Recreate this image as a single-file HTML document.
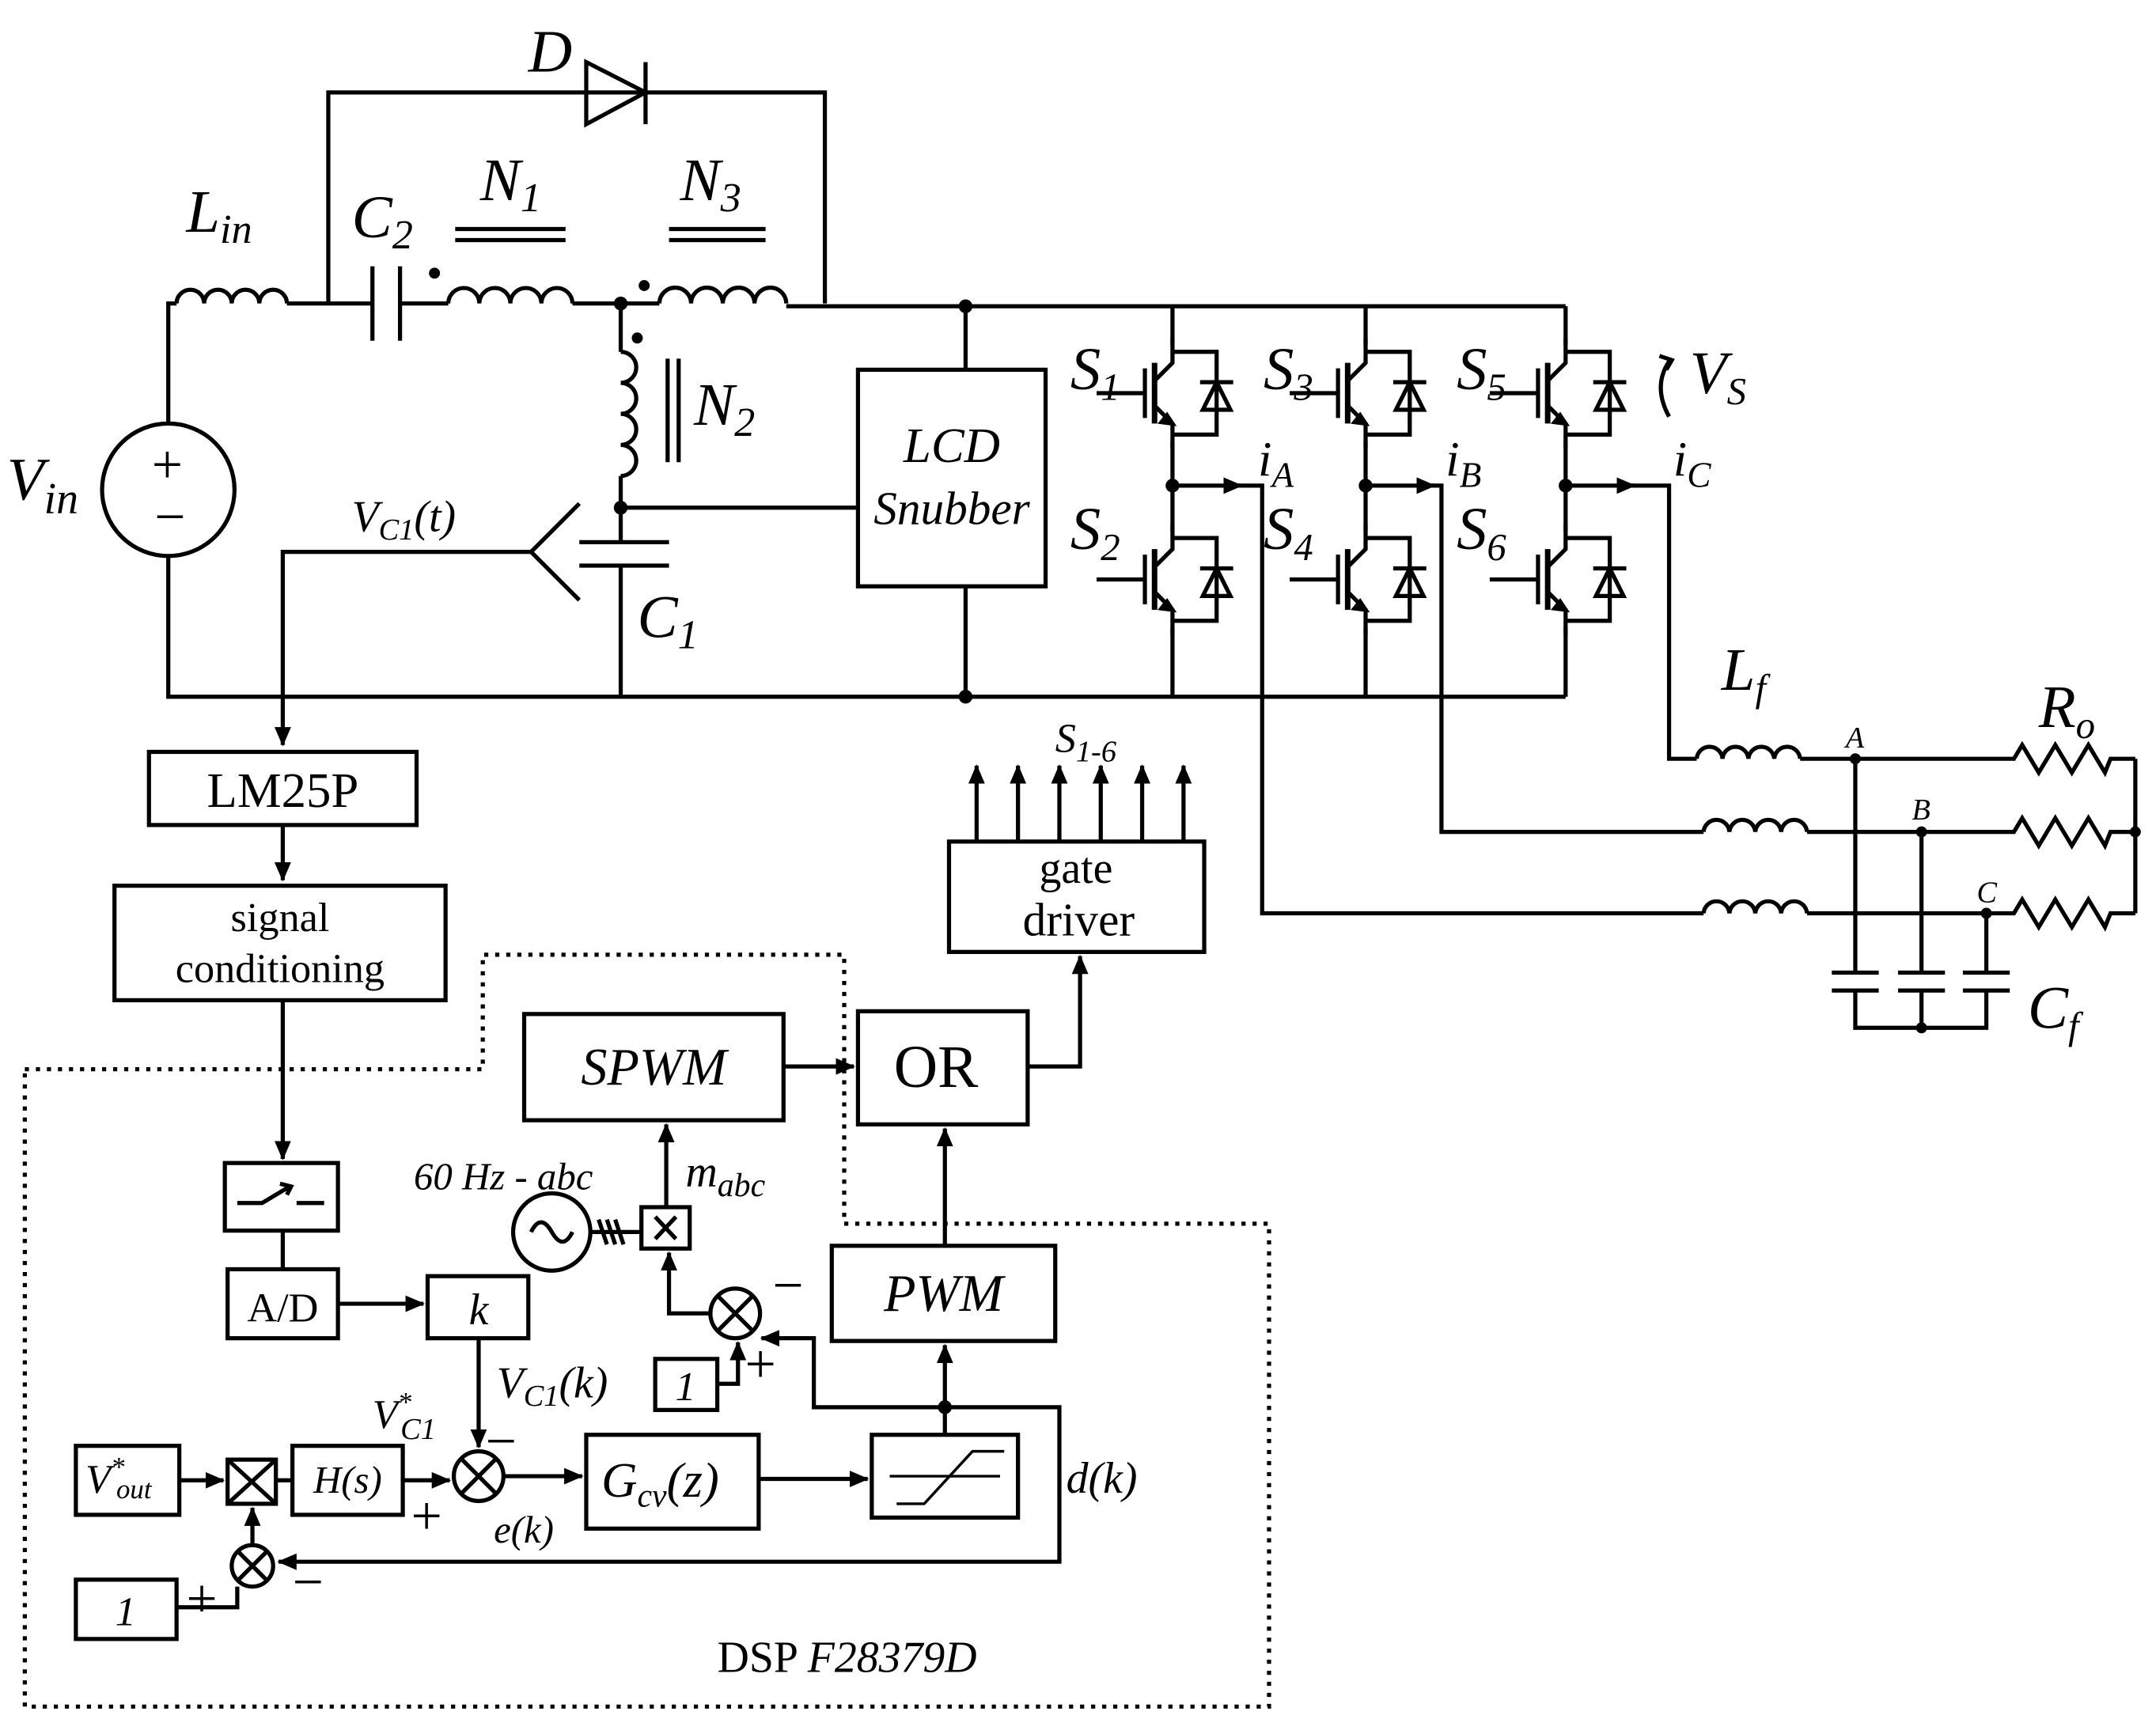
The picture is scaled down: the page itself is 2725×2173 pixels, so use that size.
<!DOCTYPE html>
<html><head><meta charset="utf-8"><style>
html,body{margin:0;padding:0;background:#fff}
svg{display:block}
text{font-family:"Liberation Serif",serif;fill:#000}
.i{font-style:italic}
</style></head><body>
<svg width="2725" height="2173" viewBox="0 0 1563 1246" preserveAspectRatio="none" xmlns="http://www.w3.org/2000/svg">
<defs>
<marker id="ar" markerWidth="14" markerHeight="12" refX="13" refY="6" orient="auto" markerUnits="userSpaceOnUse"><path d="M0,0 L14,6 L0,12 z" fill="#000"/></marker>
<g id="igbt" fill="none" stroke="#000" stroke-width="3">
<path d="M0,-40 V-22 L-12,-10"/>
<path d="M-12,10 L0,22 V40"/>
<path d="M-4,16 L0,22 L-8,21 z" fill="#000"/>
<line x1="-13" y1="-22" x2="-13" y2="22" stroke-width="4"/>
<line x1="-20" y1="-18" x2="-20" y2="18"/>
<line x1="-55" y1="0" x2="-20" y2="0"/>
<path d="M0,-30 H32 V30 H0"/>
<path d="M22,12 L42,12 L32,-8 z"/>
<line x1="20" y1="-8" x2="44" y2="-8"/>
</g>
</defs>
<g fill="none" stroke="#000" stroke-width="3">
<path d="M122,307 V220 H128"/>
<path d="M128,220 a10,10 0 0 1 20,0 a10,10 0 0 1 20,0 a10,10 0 0 1 20,0 a10,10 0 0 1 20,0"/>
<path d="M208,220 H270"/>
<circle cx="122" cy="355" r="48"/>
<path d="M122,403 V505 H1135"/>
<path d="M238,220 V67 H598 V220"/>
<path d="M425,45 V90 L468,67 z M468,45 V90"/>
<line x1="270" y1="193" x2="270" y2="247"/><line x1="290" y1="193" x2="290" y2="247"/>
<path d="M290,220 H325"/>
<path d="M325,220 a11.25,11.25 0 0 1 22.5,0 a11.25,11.25 0 0 1 22.5,0 a11.25,11.25 0 0 1 22.5,0 a11.25,11.25 0 0 1 22.5,0"/>
<line x1="330" y1="166" x2="410" y2="166"/><line x1="330" y1="174" x2="410" y2="174"/>
<path d="M415,220 H478"/>
<path d="M478,220 a11.5,11.5 0 0 1 23,0 a11.5,11.5 0 0 1 23,0 a11.5,11.5 0 0 1 23,0 a11.5,11.5 0 0 1 23,0"/>
<line x1="485" y1="166" x2="555" y2="166"/><line x1="485" y1="174" x2="555" y2="174"/>
<path d="M570,222 H1135"/>
<path d="M450,220 V255"/>
<path d="M450,255 a11.25,11.25 0 0 1 0,22.5 a11.25,11.25 0 0 1 0,22.5 a11.25,11.25 0 0 1 0,22.5 a11.25,11.25 0 0 1 0,22.5"/>
<line x1="484" y1="260" x2="484" y2="335"/><line x1="492" y1="260" x2="492" y2="335"/>
<path d="M450,345 V393"/>
<path d="M450,368 H622"/>
<line x1="420" y1="393" x2="485" y2="393"/><line x1="420" y1="410" x2="485" y2="410"/>
<path d="M450,410 V505"/>
<path d="M420,365 L385,400 L420,435"/>
<path d="M385,400 H205 V540" marker-end="url(#ar)"/>
<rect x="622" y="268" width="136" height="157"/>
<path d="M700,222 V268 M700,425 V505"/>
<path d="M850,222 V250 M850,320 V385 M850,455 V505"/>
<path d="M990,222 V250 M990,320 V385 M990,455 V505"/>
<path d="M1135,222 V250 M1135,320 V385 M1135,455 V505"/>
<use href="#igbt" x="850" y="285"/><use href="#igbt" x="850" y="420"/>
<use href="#igbt" x="990" y="285"/><use href="#igbt" x="990" y="420"/>
<use href="#igbt" x="1135" y="285"/><use href="#igbt" x="1135" y="420"/>
<path d="M850,352 H900" marker-end="url(#ar)"/><path d="M895,352 H915 V662 H1235"/>
<path d="M990,352 H1040" marker-end="url(#ar)"/><path d="M1035,352 H1045 V603 H1235"/>
<path d="M1135,352 H1185" marker-end="url(#ar)"/><path d="M1180,352 H1210 V550 H1230"/>
<path d="M1210,262 q-12,18 0,40" /><path d="M1203,258 l9,3 l-4,7" />
<path d="M1230,550 a9.4,9.4 0 0 1 18.75,0 a9.4,9.4 0 0 1 18.75,0 a9.4,9.4 0 0 1 18.75,0 a9.4,9.4 0 0 1 18.75,0"/>
<path d="M1235,603 a9.4,9.4 0 0 1 18.75,0 a9.4,9.4 0 0 1 18.75,0 a9.4,9.4 0 0 1 18.75,0 a9.4,9.4 0 0 1 18.75,0"/>
<path d="M1235,662 a9.4,9.4 0 0 1 18.75,0 a9.4,9.4 0 0 1 18.75,0 a9.4,9.4 0 0 1 18.75,0 a9.4,9.4 0 0 1 18.75,0"/>
<path d="M1305,550 H1460 l6,-10 l12,20 l12,-20 l12,20 l12,-20 l12,20 l4,-10 H1548"/>
<path d="M1310,603 H1460 l6,-10 l12,20 l12,-20 l12,20 l12,-20 l12,20 l4,-10 H1548"/>
<path d="M1310,662 H1460 l6,-10 l12,20 l12,-20 l12,20 l12,-20 l12,20 l4,-10 H1548"/>
<path d="M1548,550 V662"/>
<path d="M1345,550 V705 M1393,603 V705 M1440,662 V705"/>
<path d="M1328,705 H1362 M1328,718 H1362 M1376,705 H1410 M1376,718 H1410 M1423,705 H1457 M1423,718 H1457"/>
<path d="M1345,718 V745 H1440 V718 M1393,718 V745"/>
<rect x="108" y="545" width="194" height="53"/>
<path d="M205,598 V638" marker-end="url(#ar)"/>
<rect x="83" y="642" width="240" height="83"/>
<path d="M205,725 V840" marker-end="url(#ar)"/>
<rect x="163" y="843" width="82" height="49"/>
<path d="M172,872 H190 L210,860 M215,872 H235 M203,858 l8,2 l-3,6"/>
<path d="M205,892 V920"/>
<rect x="165" y="920" width="80" height="50"/>
<path d="M245,945 H307" marker-end="url(#ar)"/>
<rect x="310" y="925" width="73" height="45"/>
<path d="M347,970 V1049" marker-end="url(#ar)"/>
<rect x="55" y="1048" width="75" height="50"/>
<path d="M130,1073 H162" marker-end="url(#ar)"/>
<rect x="165" y="1058" width="35" height="32"/><path d="M165,1058 L200,1090 M200,1058 L165,1090"/>
<path d="M200,1073 H212"/>
<rect x="212" y="1048" width="80" height="50"/>
<path d="M292,1073 H326" marker-end="url(#ar)"/>
<circle cx="347" cy="1070" r="18"/><path d="M334,1057 L360,1083 M360,1057 L334,1083"/>
<path d="M365,1070 H422" marker-end="url(#ar)"/>
<rect x="425" y="1040" width="125" height="68"/>
<path d="M550,1072 H629" marker-end="url(#ar)"/>
<rect x="632" y="1040" width="106" height="60"/>
<path d="M645,1070 H725 M650,1090 H670 L705,1052 H728" stroke-width="2"/>
<path d="M685,1040 V1020 H768 V1132 H202" marker-end="url(#ar)"/>
<circle cx="183" cy="1135" r="15"/><path d="M172,1124 L194,1146 M194,1124 L172,1146"/>
<rect x="55" y="1145" width="73" height="43"/>
<path d="M128,1165 H172 V1150" />
<path d="M183,1120 V1093" marker-end="url(#ar)"/>
<path d="M685,1020 V975" marker-end="url(#ar)"/>
<rect x="603" y="903" width="162" height="69"/>
<path d="M685,903 V818" marker-end="url(#ar)"/>
<rect x="622" y="733" width="123" height="82"/>
<rect x="380" y="735" width="188" height="77"/>
<path d="M568,773 H619" marker-end="url(#ar)"/>
<path d="M745,773 H783 V693" marker-end="url(#ar)"/>
<rect x="688" y="610" width="185" height="80"/>
<line x1="708" y1="610" x2="708" y2="555" marker-end="url(#ar)"/>
<line x1="738" y1="610" x2="738" y2="555" marker-end="url(#ar)"/>
<line x1="768" y1="610" x2="768" y2="555" marker-end="url(#ar)"/>
<line x1="798" y1="610" x2="798" y2="555" marker-end="url(#ar)"/>
<line x1="828" y1="610" x2="828" y2="555" marker-end="url(#ar)"/>
<line x1="858" y1="610" x2="858" y2="555" marker-end="url(#ar)"/>
<path d="M685,1020 H590 V970 H552" marker-end="url(#ar)"/>
<circle cx="533" cy="952" r="18"/><path d="M520,939 L546,965 M546,939 L520,965"/>
<rect x="475" y="985" width="45" height="37"/>
<path d="M520,1003 H535 V973" marker-end="url(#ar)"/>
<path d="M515,952 H485 V908" marker-end="url(#ar)"/>
<rect x="465" y="875" width="35" height="30"/><path d="M475,882 L490,898 M490,882 L475,898"/>
<path d="M483,875 V815" marker-end="url(#ar)"/>
<circle cx="400" cy="893" r="28"/>
<path d="M385,893 q7,-14 15,0 t15,0"/>
<path d="M428,893 H465 M434,884 L440,902 M440,884 L446,902 M446,884 L452,902"/>
<path d="M18,775 H350 V692 H612 V887 H920 V1237 H18 Z" stroke-dasharray="3,5"/>
</g>
<g fill="#000">
<circle cx="315" cy="198" r="4"/><circle cx="467" cy="207" r="4"/><circle cx="462" cy="245" r="4"/>
<circle cx="450" cy="220" r="5"/><circle cx="450" cy="368" r="5"/><circle cx="700" cy="222" r="5"/><circle cx="700" cy="505" r="5"/>
<circle cx="850" cy="352" r="5"/><circle cx="990" cy="352" r="5"/><circle cx="1135" cy="352" r="5"/>
<circle cx="1345" cy="550" r="4"/><circle cx="1393" cy="603" r="4"/><circle cx="1440" cy="662" r="4"/>
<circle cx="1548" cy="603" r="4"/><circle cx="1393" cy="745" r="4"/><circle cx="685" cy="1020" r="5"/>
</g>
<g font-size="44">
<text x="383" y="52" class="i">D</text>
<text x="135" y="168" class="i">L<tspan font-size="30" dy="8">in</tspan></text>
<text x="255" y="172" class="i">C<tspan font-size="30" dy="8">2</tspan></text>
<text x="348" y="145" class="i">N<tspan font-size="30" dy="8">1</tspan></text>
<text x="493" y="145" class="i">N<tspan font-size="30" dy="8">3</tspan></text>
<text x="503" y="308" class="i">N<tspan font-size="30" dy="8">2</tspan></text>
<text x="5" y="362" class="i">V<tspan font-size="32" dy="10">in</tspan></text>
<text x="462" y="462" class="i">C<tspan font-size="30" dy="8">1</tspan></text>
<text x="776" y="282" class="i">S<tspan font-size="28" dy="8">1</tspan></text>
<text x="776" y="398" class="i">S<tspan font-size="28" dy="8">2</tspan></text>
<text x="916" y="282" class="i">S<tspan font-size="28" dy="8">3</tspan></text>
<text x="916" y="398" class="i">S<tspan font-size="28" dy="8">4</tspan></text>
<text x="1056" y="282" class="i">S<tspan font-size="28" dy="8">5</tspan></text>
<text x="1056" y="398" class="i">S<tspan font-size="28" dy="8">6</tspan></text>
<text x="1225" y="285" class="i">V<tspan font-size="28" dy="8">S</tspan></text>
<text x="1248" y="500" class="i">L<tspan font-size="28" dy="8">f</tspan></text>
<text x="1478" y="527" class="i">R<tspan font-size="28" dy="8">o</tspan></text>
<text x="1470" y="745" class="i">C<tspan font-size="28" dy="8">f</tspan></text>
<text x="648" y="788" font-size="44">OR</text>
</g>
<g font-size="36">
<text x="912" y="345" class="i">i<tspan font-size="26" dy="8">A</tspan></text>
<text x="1048" y="345" class="i">i<tspan font-size="26" dy="8">B</tspan></text>
<text x="1213" y="345" class="i">i<tspan font-size="26" dy="8">C</tspan></text>
<text x="690" y="335" class="i" text-anchor="middle">LCD</text>
<text x="690" y="380" class="i" text-anchor="middle" font-size="34">Snubber</text>
<text x="255" y="385" class="i" font-size="32">V<tspan font-size="22" dy="6">C1</tspan><tspan dy="-6">(t)</tspan></text>
<text x="205" y="585" text-anchor="middle" font-size="36">LM25P</text>
<text x="203" y="675" text-anchor="middle" font-size="30">signal</text>
<text x="203" y="712" text-anchor="middle" font-size="30">conditioning</text>
<text x="205" y="958" text-anchor="middle" font-size="30">A/D</text>
<text x="347" y="960" text-anchor="middle" class="i" font-size="32">k</text>
<text x="474" y="786" text-anchor="middle" class="i" font-size="38">SPWM</text>
<text x="684" y="950" text-anchor="middle" class="i" font-size="38">PWM</text>
<text x="780" y="640" text-anchor="middle" font-size="32">gate</text>
<text x="782" y="678" text-anchor="middle" font-size="34">driver</text>
<text x="765" y="545" class="i" font-size="30">S<tspan font-size="22" dy="7">1-6</tspan></text>
<text x="300" y="862" class="i" font-size="28">60 Hz - abc</text>
<text x="497" y="860" class="i" font-size="32">m<tspan font-size="24" dy="7">abc</tspan></text>
<text x="497" y="1015" class="i" text-anchor="middle" font-size="30">1</text>
<text x="91" y="1178" class="i" text-anchor="middle" font-size="30">1</text>
<text x="62" y="1082" class="i" font-size="30">V<tspan font-size="20" dy="-12">*</tspan><tspan font-size="20" dy="16" dx="-6">out</tspan></text>
<text x="252" y="1082" class="i" text-anchor="middle" font-size="28">H(s)</text>
<text x="436" y="1085" class="i" font-size="36">G<tspan font-size="24" dy="7">cv</tspan><tspan dy="-7">(z)</tspan></text>
<text x="270" y="1035" class="i" font-size="30">V<tspan font-size="20" dy="-12">*</tspan><tspan font-size="22" dy="20" dx="-8">C1</tspan></text>
<text x="360" y="1013" class="i" font-size="32">V<tspan font-size="22" dy="6">C1</tspan><tspan dy="-6">(k)</tspan></text>
<text x="358" y="1118" class="i" font-size="28">e(k)</text>
<text x="773" y="1082" class="i" font-size="32">d(k)</text>
<text x="520" y="1212" font-size="32">DSP <tspan class="i">F28379D</tspan></text>
<text x="1338" y="542" class="i" font-size="22">A</text>
<text x="1386" y="594" class="i" font-size="22">B</text>
<text x="1433" y="654" class="i" font-size="22">C</text>
</g>
<g font-size="40">
<text x="110" y="350">+</text><text x="112" y="388">−</text>
<text x="352" y="1058">−</text><text x="298" y="1112">+</text>
<text x="560" y="945">−</text><text x="540" y="1002">+</text>
<text x="135" y="1172">+</text><text x="212" y="1160">−</text>
</g>
</svg>
</body></html>
